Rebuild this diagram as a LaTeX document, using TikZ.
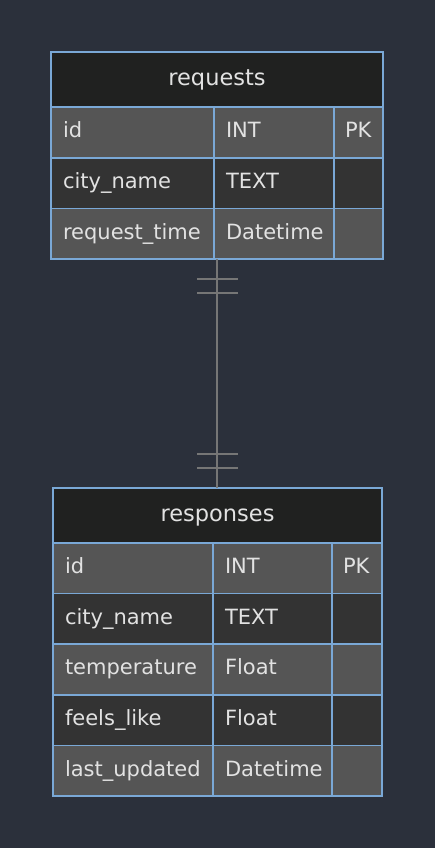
\documentclass[tikz,border=0pt]{standalone}
\usepackage{fontspec}
\setmainfont{DejaVu Sans}
\usetikzlibrary{positioning}

\definecolor{fondo}{RGB}{43,48,59}
\definecolor{cabecera}{RGB}{32,33,32}
\definecolor{filaclara}{RGB}{85,85,85}
\definecolor{filaoscura}{RGB}{51,51,51}
\definecolor{borde}{RGB}{122,168,214}
\definecolor{texto}{RGB}{226,226,226}
\definecolor{linea}{RGB}{118,118,118}

\begin{document}
\begin{tikzpicture}[x=1pt, y=-1pt,
    celda/.style={draw=borde, line width=1.6pt, outer sep=0pt, inner xsep=12pt,
        minimum height=#1, text height=15pt, text depth=4.4pt,
        text=texto, font=\fontsize{21}{25}\selectfont, align=left},
    titulo/.style={draw=borde, line width=1.6pt, outer sep=0pt, fill=cabecera,
        anchor=north west, minimum height=55pt, text=texto,
        text height=16pt, text depth=4.6pt, font=\fontsize{22.5}{27}\selectfont},
    marco/.style={draw=borde, line width=1.6pt, outer sep=0pt, anchor=north west, inner sep=0pt},
    relacion/.style={draw=linea, line width=1.8pt}
]
    % Fondo oscuro del lienzo
    \fill[fondo] (0,0) rectangle (435,848);

    % Tabla requests (x de 51 a 383)
    \node[titulo, minimum width=332pt] (req-h) at (51,52) {requests};
    \foreach \nombre/\tipo/\clave/\col [count=\i] in {id/INT/PK/filaclara,
        city\_name/TEXT//filaoscura, request\_time/Datetime//filaclara}
    {
        \node[celda=50.7pt, fill=\col, text width=139pt, anchor=north west]
            (req-\i-a) at (51,{107+50.7*(\i-1)}) {\nombre};
        \node[celda=50.7pt, fill=\col, text width=96pt, right=0pt of req-\i-a] (req-\i-b) {\tipo};
        \node[celda=50.7pt, fill=\col, text width=27pt, inner xsep=11pt, right=0pt of req-\i-b] (req-\i-c) {\clave};
    }
    \node[marco, minimum width=332pt, minimum height=207pt] (requests) at (51,52) {};

    % Tabla responses (x de 53 a 382)
    \node[titulo, minimum width=329pt] (res-h) at (53,488) {responses};
    \foreach \nombre/\tipo/\clave/\col [count=\i] in {id/INT/PK/filaclara,
        city\_name/TEXT//filaoscura, temperature/Float//filaclara,
        feels\_like/Float//filaoscura, last\_updated/Datetime//filaclara}
    {
        \node[celda=50.6pt, fill=\col, text width=136pt, anchor=north west]
            (res-\i-a) at (53,{543+50.6*(\i-1)}) {\nombre};
        \node[celda=50.6pt, fill=\col, text width=95pt, right=0pt of res-\i-a] (res-\i-b) {\tipo};
        \node[celda=50.6pt, fill=\col, text width=28pt, inner xsep=11pt, right=0pt of res-\i-b] (res-\i-c) {\clave};
    }
    \node[marco, minimum width=329pt, minimum height=308pt] (responses) at (53,488) {};

    % Relacion uno a uno (dos barras en cada extremo)
    \draw[relacion] (requests.south) -- (requests.south |- responses.north);
    \foreach \d in {20,34}
    {
        \draw[relacion] ([shift={(-20,\d)}]requests.south) -- ([shift={(21,\d)}]requests.south);
        \draw[relacion] ([shift={(-20,-\d)}]requests.south |- responses.north) -- ([shift={(21,-\d)}]requests.south |- responses.north);
    }
\end{tikzpicture}
\end{document}
